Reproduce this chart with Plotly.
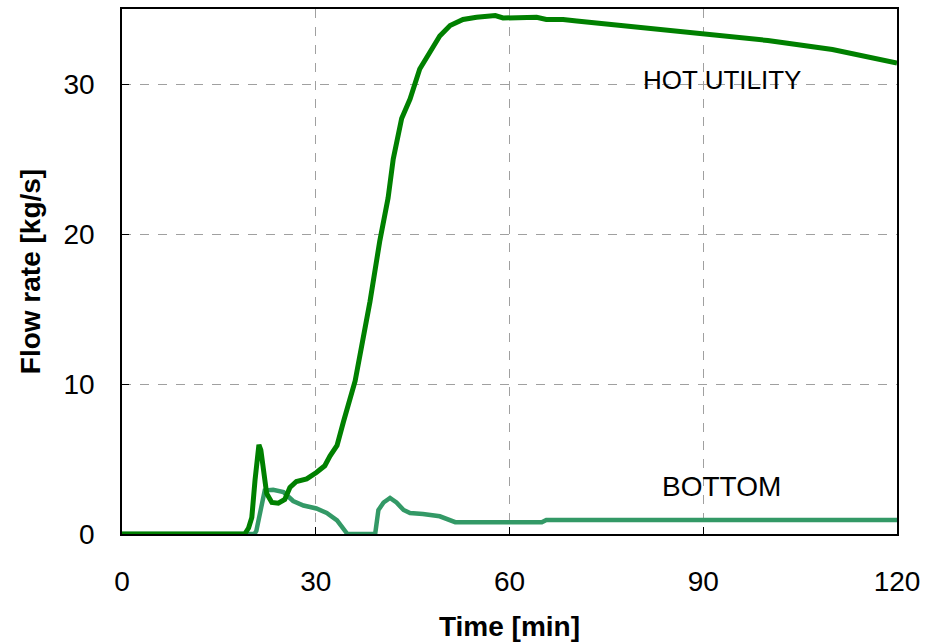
import plotly.graph_objects as go

# HOT UTILITY series
hot_t = [0, 19.0, 19.6, 20.1, 20.6, 21.0, 21.2, 21.5, 21.9, 22.4, 23.2, 24.2, 25.2, 26.0, 27.0,
         28.6, 30.1, 31.4, 32.2, 33.3, 34.3, 36.1, 38.4, 39.9, 41.2, 42.0, 43.3, 44.6, 46.1,
         47.7, 49.2, 50.8, 52.8, 54.9, 57.8, 59.0, 64.2, 65.7, 68.3, 70.4, 80, 90, 100, 110, 120]
hot_v = [0, 0, 0.4, 1.1, 3.6, 5.6, 5.95, 5.6, 4.4, 2.7, 2.1, 2.05, 2.3, 3.1, 3.5,
         3.67, 4.1, 4.55, 5.2, 5.9, 7.5, 10.2, 15.5, 19.5, 22.4, 25.0, 27.7, 29.0, 31.0,
         32.1, 33.2, 33.9, 34.3, 34.45, 34.56, 34.4, 34.45, 34.3, 34.3, 34.2, 33.8, 33.3, 32.9, 32.3, 31.4]

# BOTTOM series
bot_t = [0, 20.5, 20.8, 21.6, 22.1, 23.4, 25.0, 26.5, 28.1, 30.1, 31.7, 33.3, 34.5, 34.9,
         39.2, 39.7, 40.5, 41.5, 42.5, 43.6, 44.6, 46.6, 49.2, 51.6, 65.0, 65.7, 120]
bot_v = [0, 0, 0.2, 1.8, 2.9, 2.95, 2.8, 2.2, 1.9, 1.7, 1.4, 0.9, 0.2, 0,
         0, 1.6, 2.1, 2.4, 2.1, 1.6, 1.4, 1.34, 1.18, 0.79, 0.79, 0.94, 0.94]

x_ticks = [0, 30, 60, 90, 120]
y_ticks = [0, 10, 20, 30]

FONT = "Arial, Liberation Sans, sans-serif"

fig = go.Figure()
fig.add_trace(go.Scatter(x=bot_t, y=bot_v, mode="lines", name="BOTTOM",
                         line=dict(color="#339966", width=4.5)))
fig.add_trace(go.Scatter(x=hot_t, y=hot_v, mode="lines", name="HOT UTILITY",
                         line=dict(color="#008000", width=5)))

fig.add_annotation(x=92.9, y=30.3, text="HOT UTILITY", showarrow=False,
                   font=dict(family=FONT, size=26, color="black"))
fig.add_annotation(x=92.8, y=3.16, text="BOTTOM", showarrow=False,
                   font=dict(family=FONT, size=28, color="black"))

axis_common = dict(
    showline=True, linecolor="black", linewidth=1.5, mirror=True,
    ticks="inside", ticklen=7, tickcolor="black", tickwidth=1,
    showgrid=True, gridcolor="#a0a0a0", griddash="dash", gridwidth=1,
    zeroline=False,
    tickfont=dict(family=FONT, size=28, color="black"),
)

fig.update_xaxes(range=[0, 120], tickvals=x_ticks, ticktext=[str(v) for v in x_ticks],
                 ticklabelstandoff=22,
                 title=dict(text="<b>Time [min]</b>", standoff=20,
                            font=dict(family=FONT, size=28, color="black")),
                 **axis_common)
fig.update_yaxes(range=[0, 35], tickvals=y_ticks, ticktext=[str(v) for v in y_ticks],
                 ticklabelstandoff=20,
                 title=dict(text="<b>Flow rate [kg/s]</b>", standoff=15,
                            font=dict(family=FONT, size=28, color="black")),
                 **axis_common)

fig.update_layout(
    width=930, height=644,
    margin=dict(l=122, r=33, t=7, b=110),
    plot_bgcolor="white", paper_bgcolor="white",
    showlegend=False,
)

fig.write_html("out.html", config={"displayModeBar": False},
               post_script="document.body.style.margin='0px';")
